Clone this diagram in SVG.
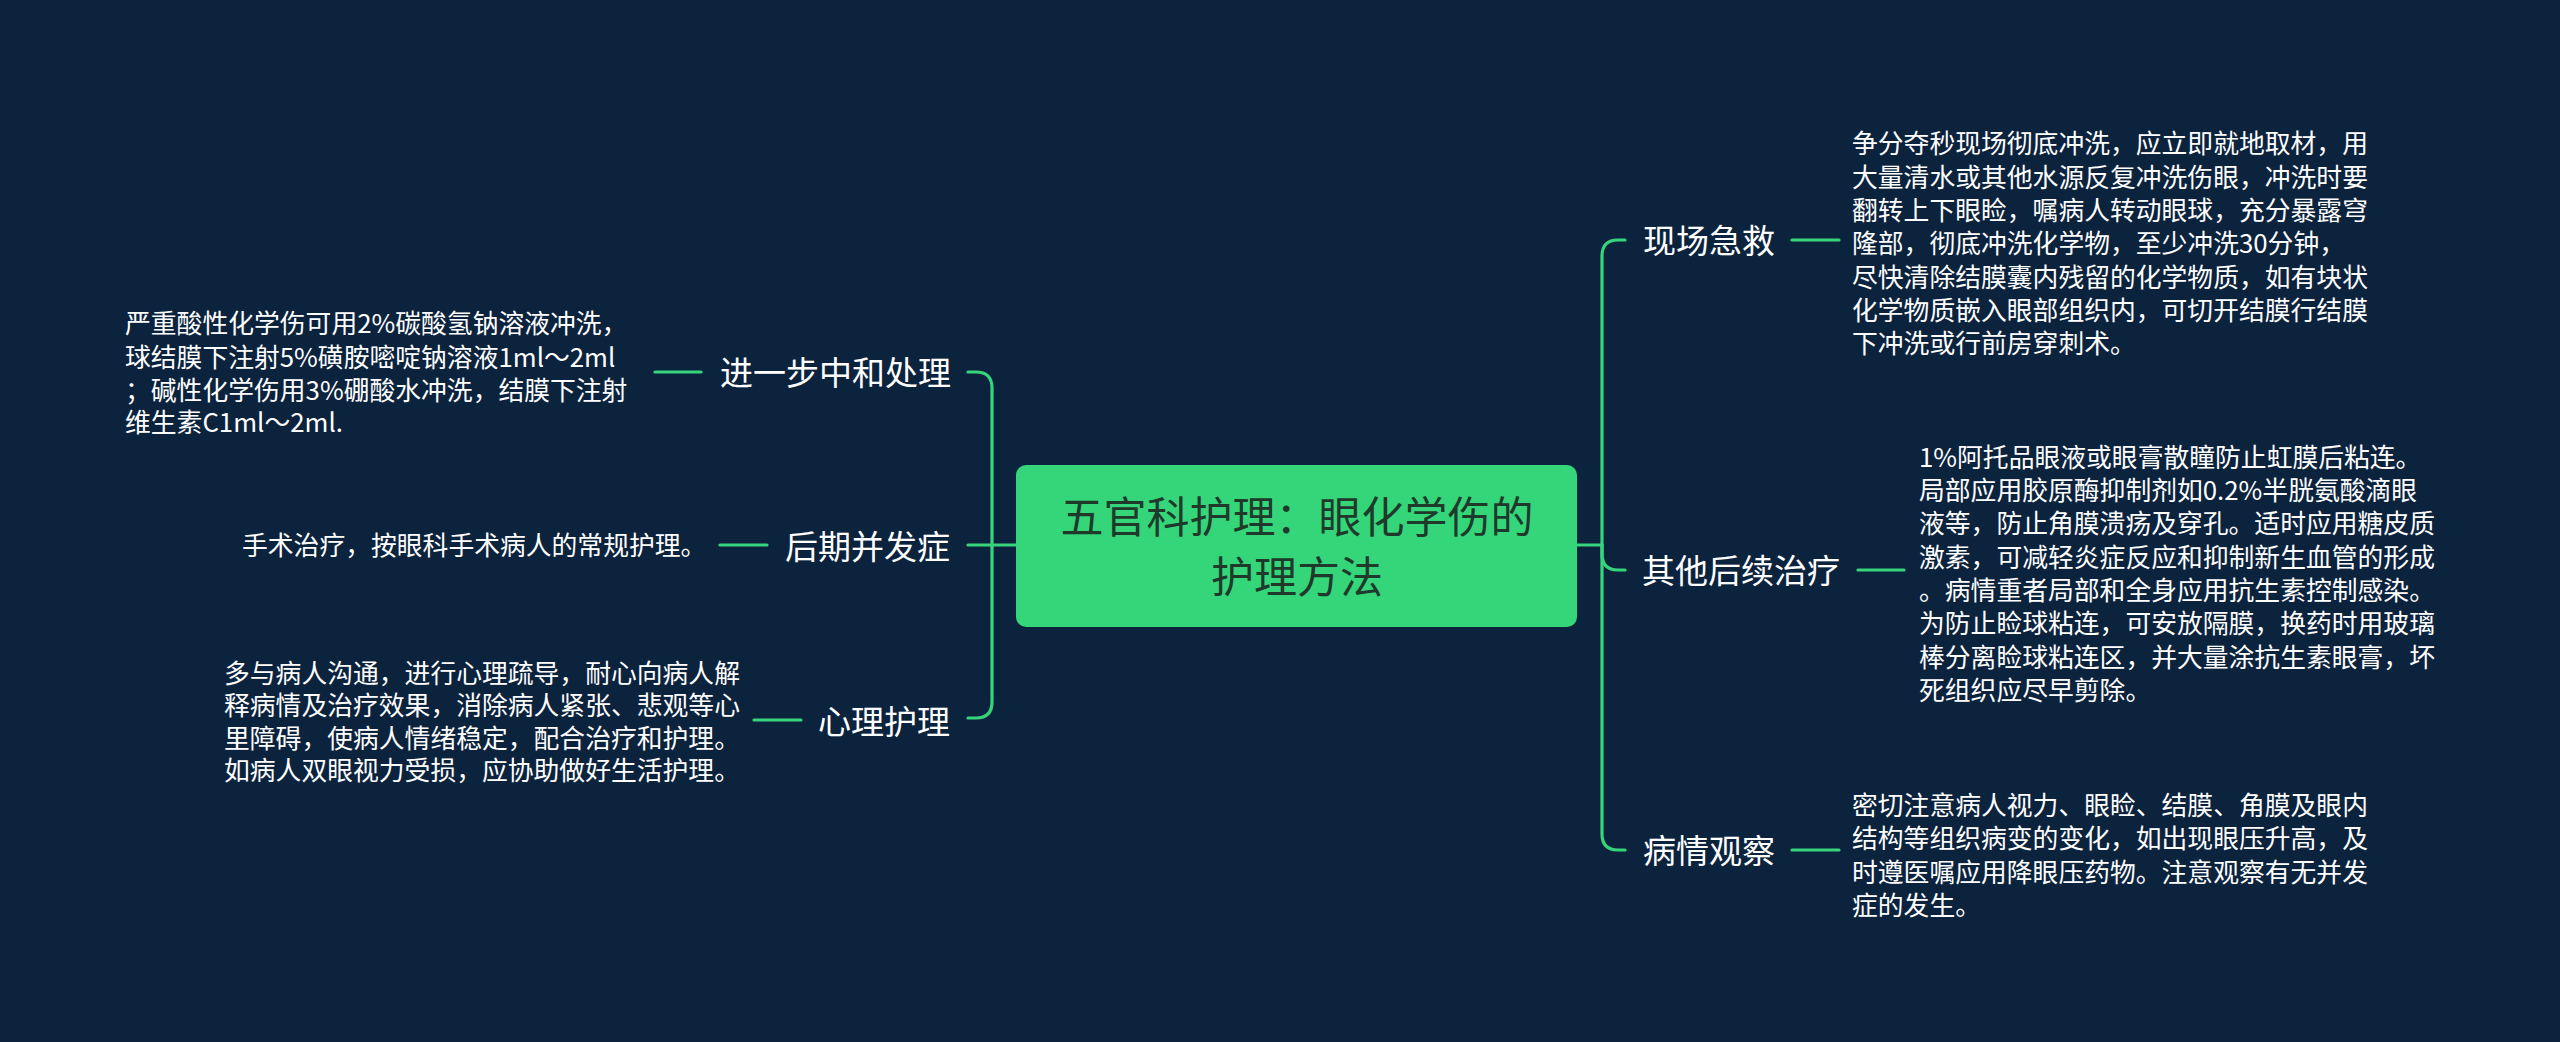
<svg xmlns="http://www.w3.org/2000/svg" width="2560" height="1042" viewBox="0 0 2560 1042">
<style>
.bg{fill:#0c233e}
.ln{fill:none;stroke:#37d47c;stroke-width:3.2;stroke-linecap:round}
.root{fill:#35d57a}
.rt{font-family:"Noto Sans CJK SC","Noto Sans",sans-serif;font-size:43px;fill:#1f3a2b;text-anchor:middle}
.lb{font-family:"Noto Sans CJK SC","Noto Sans",sans-serif;font-size:33px;fill:#ffffff}
.lf{font-family:"Noto Sans CJK SC","Noto Sans",sans-serif;font-size:25.8px;fill:#ffffff}
.end{text-anchor:end}
</style>
<rect class="bg" x="0" y="0" width="2560" height="1042"/>
<g id="connectors">
<path class="ln" d="M1577,545 H1602"/>
<path class="ln" d="M1602,545 V256 Q1602,240 1618,240 H1625"/>
<path class="ln" d="M1602,545 V554 Q1602,570 1618,570 H1625"/>
<path class="ln" d="M1602,545 V834 Q1602,850 1618,850 H1625"/>
<path class="ln" d="M1017,545 H992"/>
<path class="ln" d="M992,545 V388 Q992,372 976,372 H968"/>
<path class="ln" d="M992,545 H968"/>
<path class="ln" d="M992,545 V702 Q992,718 976,718 H968"/>
<path class="ln" d="M1792,240 H1839"/>
<path class="ln" d="M1858,570 H1904"/>
<path class="ln" d="M1792,850 H1839"/>
<path class="ln" d="M655,372 H701"/>
<path class="ln" d="M720,545 H767"/>
<path class="ln" d="M754,720 H801"/>
</g>
<g id="root">
<rect class="root" x="1016" y="465" width="561" height="162" rx="10"/>
<text class="rt" x="1297" y="533">五官科护理：眼化学伤的</text>
<text class="rt" x="1297" y="593">护理方法</text>
</g>
<g id="n-xcjj">
<text class="lb" x="1643" y="253">现场急救</text>
</g>
<g id="leaf-xcjj">
<text class="lf"><tspan x="1852" y="153">争分夺秒现场彻底冲洗，应立即就地取材，用</tspan><tspan x="1852" y="187">大量清水或其他水源反复冲洗伤眼，冲洗时要</tspan><tspan x="1852" y="220">翻转上下眼睑，嘱病人转动眼球，充分暴露穹</tspan><tspan x="1852" y="253">隆部，彻底冲洗化学物，至少冲洗30分钟，</tspan><tspan x="1852" y="287">尽快清除结膜囊内残留的化学物质，如有块状</tspan><tspan x="1852" y="320">化学物质嵌入眼部组织内，可切开结膜行结膜</tspan><tspan x="1852" y="353">下冲洗或行前房穿刺术。</tspan></text>
</g>
<g id="n-qthxzl">
<text class="lb" x="1642" y="583">其他后续治疗</text>
</g>
<g id="leaf-qthxzl">
<text class="lf"><tspan x="1919" y="467">1%阿托品眼液或眼膏散瞳防止虹膜后粘连。</tspan><tspan x="1919" y="500">局部应用胶原酶抑制剂如0.2%半胱氨酸滴眼</tspan><tspan x="1919" y="533">液等，防止角膜溃疡及穿孔。适时应用糖皮质</tspan><tspan x="1919" y="567">激素，可减轻炎症反应和抑制新生血管的形成</tspan><tspan x="1919" y="600">。病情重者局部和全身应用抗生素控制感染。</tspan><tspan x="1919" y="633">为防止睑球粘连，可安放隔膜，换药时用玻璃</tspan><tspan x="1919" y="667">棒分离睑球粘连区，并大量涂抗生素眼膏，坏</tspan><tspan x="1919" y="700">死组织应尽早剪除。</tspan></text>
</g>
<g id="n-bqgc">
<text class="lb" x="1643" y="863">病情观察</text>
</g>
<g id="leaf-bqgc">
<text class="lf"><tspan x="1852" y="815">密切注意病人视力、眼睑、结膜、角膜及眼内</tspan><tspan x="1852" y="848">结构等组织病变的变化，如出现眼压升高，及</tspan><tspan x="1852" y="882">时遵医嘱应用降眼压药物。注意观察有无并发</tspan><tspan x="1852" y="915">症的发生。</tspan></text>
</g>
<g id="n-jybzhcl">
<text class="lb end" x="951" y="385">进一步中和处理</text>
</g>
<g id="leaf-jybzhcl">
<text class="lf"><tspan x="125" y="333">严重酸性化学伤可用2%碳酸氢钠溶液冲洗，</tspan><tspan x="125" y="367">球结膜下注射5%磺胺嘧啶钠溶液1ml～2ml</tspan><tspan x="125" y="400">；碱性化学伤用3%硼酸水冲洗，结膜下注射</tspan><tspan x="125" y="432">维生素C1ml～2ml.</tspan></text>
</g>
<g id="n-hqbfz">
<text class="lb end" x="950" y="559">后期并发症</text>
</g>
<g id="leaf-hqbfz">
<text class="lf" x="242" y="555">手术治疗，按眼科手术病人的常规护理。</text>
</g>
<g id="n-xlhl">
<text class="lb end" x="950" y="734">心理护理</text>
</g>
<g id="leaf-xlhl">
<text class="lf"><tspan x="224" y="683">多与病人沟通，进行心理疏导，耐心向病人解</tspan><tspan x="224" y="715">释病情及治疗效果，消除病人紧张、悲观等心</tspan><tspan x="224" y="748">里障碍，使病人情绪稳定，配合治疗和护理。</tspan><tspan x="224" y="780">如病人双眼视力受损，应协助做好生活护理。</tspan></text>
</g>
</svg>
